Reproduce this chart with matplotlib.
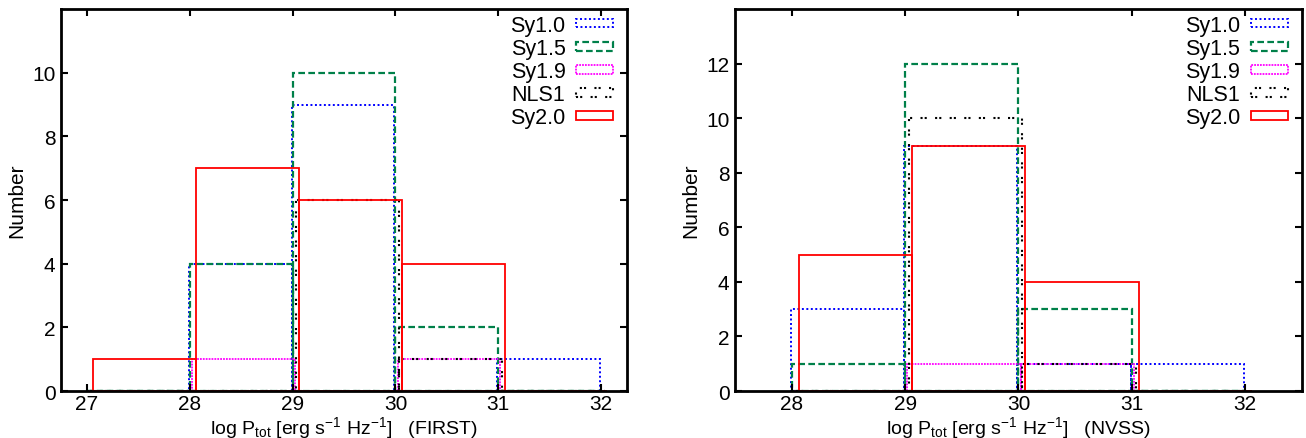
import numpy as np
import matplotlib
matplotlib.use('Agg')
from matplotlib import pyplot as plt
from matplotlib.patches import Patch

plt.rcParams['font.family'] = ['Liberation Sans', 'DejaVu Sans']
plt.rcParams['mathtext.fontset'] = 'custom'
plt.rcParams['mathtext.rm'] = 'Liberation Sans'
plt.rcParams['mathtext.it'] = 'Liberation Sans:italic'

# bins (left edges, width 1 in log P)
first_bins = np.array([27, 28, 29, 30, 31])
nvss_bins = np.array([28, 29, 30, 31])

# counts per class, FIRST
first_sy10 = [0, 4, 9, 0, 1]
first_sy15 = [0, 4, 10, 2, 0]
first_sy19 = [0, 1, 0, 1, 0]
first_nls1 = [0, 0, 6, 1, 0]
first_sy20 = [1, 7, 6, 4, 0]

# counts per class, NVSS
nvss_sy10 = [3, 9, 1, 1]
nvss_sy15 = [1, 12, 3, 0]
nvss_sy19 = [0, 1, 1, 0]
nvss_nls1 = [0, 10, 1, 0]
nvss_sy20 = [5, 9, 4, 0]

labels = ['Sy1.0', 'Sy1.5', 'Sy1.9', 'NLS1', 'Sy2.0']

# style per class: colour, dash, width, small x shift so boxes don't overlap
styles = [
    dict(color='#0000ff', ls=(0, (1, 1.3)), lw=1.4, shift=-0.01),
    dict(color='#00804a', ls=(0, (3, 1.5)), lw=1.6, shift=0.0),
    dict(color='#ff00ff', ls=(0, (1, 0.6)), lw=1.3, shift=0.02),
    dict(color='#000000', ls=(0, (1, 1, 1, 4)), lw=1.5, shift=0.035),
    dict(color='#ff0000', ls='-', lw=1.3, shift=0.06),
]


def draw_panel(ax, bins, series, xlim, ylim, yticks, survey):
    for counts, st in zip(series, styles):
        ax.bar(bins + st['shift'], counts, width=1.0, align='edge',
               fill=False, edgecolor=st['color'], linestyle=st['ls'],
               linewidth=st['lw'])
    ax.set_xlim(*xlim)
    ax.set_ylim(*ylim)
    ax.set_yticks(yticks)
    ax.set_xticks(np.arange(int(np.ceil(xlim[0])), int(xlim[1]) + 1))
    ax.tick_params(direction='in', top=True, right=True, labelsize=15,
                   length=5, width=1.5, pad=4)
    ax.tick_params(axis='x', pad=2)
    for sp in ax.spines.values():
        sp.set_linewidth(2)
    ax.set_ylabel('Number', fontsize=15, labelpad=4)
    ax.set_xlabel(r'log P$_{\rm tot}$ [erg s$^{-1}$ Hz$^{-1}$]   (' + survey + ')',
                  fontsize=14, labelpad=1)

    handles = [Patch(facecolor='none', edgecolor=st['color'], linestyle=st['ls'],
                     linewidth=st['lw']) for st in styles]
    ax.legend(handles, labels, loc='upper right', bbox_to_anchor=(0.975, 0.985),
              frameon=False, markerfirst=False, fontsize=15.5, handlelength=1.7,
              handleheight=0.25, labelspacing=0.1, borderaxespad=0,
              borderpad=0, handletextpad=0.5)


fig = plt.figure(figsize=(13.06, 4.39), dpi=100)
ax1 = fig.add_axes([0.0467, 0.107, 0.4334, 0.870])
ax2 = fig.add_axes([0.5628, 0.107, 0.4341, 0.870])

draw_panel(ax1, first_bins,
           [first_sy10, first_sy15, first_sy19, first_nls1, first_sy20],
           (26.75, 32.25), (0, 12), [0, 2, 4, 6, 8, 10], 'FIRST')
draw_panel(ax2, nvss_bins,
           [nvss_sy10, nvss_sy15, nvss_sy19, nvss_nls1, nvss_sy20],
           (27.5, 32.5), (0, 14), [0, 2, 4, 6, 8, 10, 12], 'NVSS')

fig.savefig('out.png', dpi=100)
